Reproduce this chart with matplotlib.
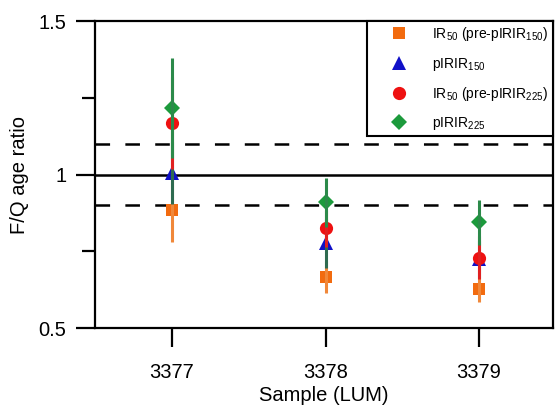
import matplotlib
matplotlib.use("Agg")
import matplotlib.pyplot as plt
from matplotlib.lines import Line2D

plt.rcParams['font.family'] = ['Liberation Sans', 'DejaVu Sans']
plt.rcParams['mathtext.fontset'] = 'custom'
plt.rcParams['mathtext.rm'] = 'Liberation Sans'
plt.rcParams['mathtext.it'] = 'Liberation Sans:italic'
plt.rcParams['lines.scale_dashes'] = False

samples = ['3377', '3378', '3379']
series_labels = [r'IR$_{50}$ (pre-pIRIR$_{150}$)', r'pIRIR$_{150}$',
                 r'IR$_{50}$ (pre-pIRIR$_{225}$)', r'pIRIR$_{225}$']
ir50_150 = [0.884, 0.665, 0.626]
ir50_150_err = [0.103, 0.052, 0.040]
pirir150 = [1.005, 0.776, 0.725]
pirir150_err = [0.100, 0.080, 0.060]
ir50_225 = [1.167, 0.825, 0.729]
ir50_225_err = [0.150, 0.060, 0.070]
pirir225 = [1.216, 0.909, 0.844]
pirir225_err = [0.162, 0.079, 0.073]

values = [ir50_150, pirir150, ir50_225, pirir225]
errors = [ir50_150_err, pirir150_err, ir50_225_err, pirir225_err]
markers = ['s', '^', 'o', 'D']
mcolors = ['#f26b0f', '#1010c8', '#ee1111', '#1c9a3c']
ecolors = ['#f0883a', '#2e6b50', '#e02020', '#2c8a4a']
msizes = [9, 10, 9.5, 8.5]

fig = plt.figure(figsize=(5.55, 4.05), dpi=100)
ax = fig.add_axes([95/555, 1-328/405, (553-95)/555, (328-21)/405])

x = list(range(len(samples)))
for i in range(4):
    ax.errorbar(x, values[i], yerr=errors[i], fmt='none', ecolor=ecolors[i],
                elinewidth=2.2, capsize=0, zorder=3+2*i)
    ax.plot(x, values[i], linestyle='none', marker=markers[i], color=mcolors[i],
            markersize=msizes[i], markeredgewidth=0, zorder=2+2*i)

ax.axhline(1.0, color='black', lw=1.8, zorder=1)
for yv in (1.1, 0.9):
    ax.axhline(yv, color='black', lw=1.8, dashes=(10.5, 11), zorder=1)

ax.set_xlim(-0.502, 2.482)
ax.set_ylim(0.5, 1.5)
ax.set_xticks(x)
ax.set_xticklabels(samples)
ax.set_yticks([0.5, 1.0, 1.5])
ax.set_yticklabels(['0.5', '1', '1.5'])
ax.set_yticks([0.75, 1.25], minor=True)

for s in ax.spines.values():
    s.set_linewidth(1.6)
ax.tick_params(axis='both', which='major', length=14, width=1.6, labelsize=14.5, direction='out')
ax.tick_params(axis='y', which='major', pad=6.5)
ax.tick_params(axis='x', which='major', pad=11)
ax.tick_params(axis='y', which='minor', length=9.5, width=1.6)

ax.set_xlabel('Sample (LUM)', fontsize=14.5, labelpad=3)
ax.set_ylabel('F/Q age ratio', fontsize=14.5, labelpad=7)

handles = [Line2D([], [], linestyle='none', marker=markers[i], color=mcolors[i],
                  markersize=msizes[i], markeredgewidth=0) for i in range(4)]
leg = ax.legend(handles, series_labels, loc='upper right', bbox_to_anchor=(1.0, 1.0),
                borderaxespad=0, fancybox=False, edgecolor='black', framealpha=1,
                fontsize=10, handlelength=4.0, handletextpad=0.43, labelspacing=0.89,
                borderpad=0.3)
leg.get_frame().set_linewidth(1.5)
leg.set_zorder(20)

fig.savefig('out.png', dpi=100)
